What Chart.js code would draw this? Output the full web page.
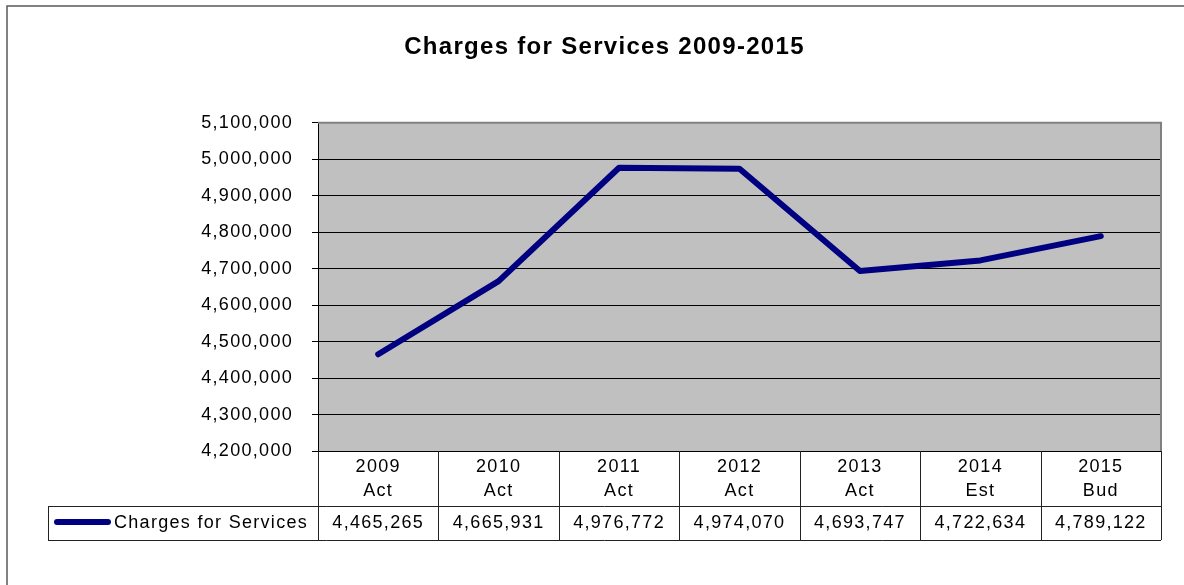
<!DOCTYPE html>
<html>
<head>
<meta charset="utf-8">
<title>Charges for Services 2009-2015</title>
<script src="https://cdn.jsdelivr.net/npm/chart.js@4/dist/chart.umd.min.js"></script>
<style>
  html, body { margin: 0; padding: 0; background: #fff; }
  #chart-wrap { width: 1184px; height: 585px; }
</style>
</head>
<body>
<div id="chart-wrap"><canvas id="charges-chart" width="1184" height="585"></canvas></div>
<script>
// --- Data ---
const years = ['2009', '2010', '2011', '2012', '2013', '2014', '2015'];
const kinds = ['Act', 'Act', 'Act', 'Act', 'Act', 'Est', 'Bud'];
const charges = [4465265, 4665931, 4976772, 4974070, 4693747, 4722634, 4789122];
const seriesName = 'Charges for Services';
const yMin = 4200000;
const yMax = 5100000;
const yStep = 100000;

const FONT = "'Liberation Sans', Arial, sans-serif";
const LINE_COLOR = '#000080';
const fmt = (v) => Number(v).toLocaleString('en-US');

// Excel-like wide text spacing
const spacing = {
    id: 'spacing',
    beforeLayout: (chart) => { chart.ctx.letterSpacing = '1.3px'; },
    beforeDraw: (chart) => { chart.ctx.letterSpacing = '1.3px'; }
};

// Plot background and outer frame
const plotBack = {
    id: 'plotBack',
    beforeDraw: (chart) => {
        const { ctx, chartArea: a } = chart;
        ctx.save();
        ctx.strokeStyle = '#5a5a5a';
        ctx.lineWidth = 1.5;
        ctx.strokeRect(7, 6, 1200, 600);
        ctx.fillStyle = '#c0c0c0';
        ctx.fillRect(a.left, a.top, a.right - a.left, a.bottom - a.top);
        ctx.restore();
    }
};

// Gray plot border plus the data table under the axis
const dataTable = {
    id: 'dataTable',
    afterDraw: (chart) => {
        const { ctx, chartArea: a } = chart;
        const x = chart.scales.x;
        const colW = (a.right - a.left) / years.length;
        const headBottom = a.bottom + 55;
        const rowBottom = headBottom + 34;
        const legendLeft = 48;

        ctx.save();
        // plot border (top / right)
        ctx.strokeStyle = '#808080';
        ctx.lineWidth = 2;
        ctx.beginPath();
        ctx.moveTo(a.left, a.top);
        ctx.lineTo(a.right, a.top);
        ctx.lineTo(a.right, a.bottom);
        ctx.stroke();

        // table grid
        ctx.strokeStyle = '#222';
        ctx.lineWidth = 1;
        ctx.beginPath();
        ctx.moveTo(legendLeft, headBottom + 0.5);
        ctx.lineTo(a.right, headBottom + 0.5);
        ctx.moveTo(legendLeft, rowBottom + 0.5);
        ctx.lineTo(a.right, rowBottom + 0.5);
        ctx.moveTo(legendLeft + 0.5, headBottom);
        ctx.lineTo(legendLeft + 0.5, rowBottom);
        for (let i = 0; i <= years.length; i++) {
            const cx = Math.round(a.left + i * colW) + 0.5;
            ctx.moveTo(cx, a.bottom);
            ctx.lineTo(cx, rowBottom);
        }
        ctx.stroke();

        // header and value cells
        ctx.fillStyle = '#000';
        ctx.font = `18px ${FONT}`;
        ctx.textAlign = 'center';
        ctx.textBaseline = 'middle';
        years.forEach((yr, i) => {
            const cx = x.getPixelForValue(i);
            ctx.fillText(yr, cx, a.bottom + 16);
            ctx.fillText(kinds[i], cx, a.bottom + 40);
            ctx.fillText(fmt(charges[i]), cx, headBottom + 17);
        });

        // legend key
        const ds = chart.data.datasets[0];
        ctx.strokeStyle = ds.borderColor;
        ctx.lineWidth = 6;
        ctx.lineCap = 'round';
        ctx.beginPath();
        ctx.moveTo(57, headBottom + 16);
        ctx.lineTo(108, headBottom + 16);
        ctx.stroke();
        ctx.textAlign = 'left';
        ctx.fillText(ds.label, 114, headBottom + 17);
        ctx.restore();
    }
};

new Chart(document.getElementById('charges-chart'), {
    type: 'line',
    data: {
        labels: years.map((y, i) => [y, kinds[i]]),
        datasets: [{
            label: seriesName,
            data: charges,
            borderColor: LINE_COLOR,
            backgroundColor: LINE_COLOR,
            borderWidth: 6,
            borderCapStyle: 'round',
            borderJoinStyle: 'round',
            pointRadius: 0,
            tension: 0,
            fill: false
        }]
    },
    options: {
        responsive: false,
        devicePixelRatio: 1,
        animation: false,
        // left padding keeps the title centred over the table
        layout: { padding: { left: 48, right: 23, top: 0, bottom: 134 } },
        plugins: {
            legend: { display: false },
            tooltip: { enabled: false },
            title: {
                display: true,
                text: 'Charges for Services 2009-2015',
                color: '#000',
                font: { family: FONT, size: 24, weight: 'bold', lineHeight: 1.2 },
                padding: { top: 33, bottom: 61 }
            }
        },
        scales: {
            x: {
                type: 'category',
                display: false,
                offset: true
            },
            y: {
                min: yMin,
                max: yMax,
                afterFit: (scale) => { scale.width = 270; },
                ticks: {
                    stepSize: yStep,
                    color: '#000',
                    padding: 19,
                    font: { family: FONT, size: 18 },
                    callback: (v) => fmt(v)
                },
                grid: { color: '#000', tickColor: '#000', tickLength: 6, lineWidth: 1 },
                border: { display: true, color: '#000', width: 1 }
            }
        }
    },
    plugins: [spacing, plotBack, dataTable]
});
</script>
</body>
</html>
